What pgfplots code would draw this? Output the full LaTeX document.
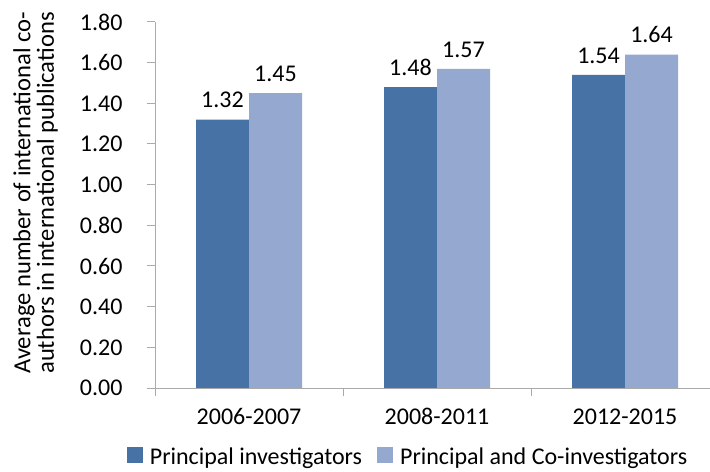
\documentclass[border=0pt]{standalone}
\usepackage{pgfplots}
\pgfplotsset{compat=1.18}
\usepackage{fontspec}
\setmainfont{Carlito}
\definecolor{piblue}{RGB}{70,114,166}
\definecolor{coblue}{RGB}{149,169,208}
\definecolor{axisgray}{RGB}{170,170,170}
\newcommand\chartfont{\fontsize{24bp}{23.5bp}\selectfont}
\begin{document}
\begin{tikzpicture}
\useasboundingbox (0,0) rectangle (710bp,472bp);
\begin{axis}[
  at={(155bp,84bp)}, anchor=south west,
  scale only axis, width=555bp, height=366bp,
  ybar=0pt, bar width=53bp,
  xmin=-0.5, xmax=2.452, ymin=0, ymax=1.8,
  axis x line*=bottom, axis y line*=left,
  axis line style={axisgray, line width=1bp},
  tick style={axisgray, line width=1bp},
  tick align=outside, major tick length=8bp,
  xtick={-0.5,0.5,1.5}, xticklabels={},
  extra x ticks={0,1,2},
  extra x tick labels={2006-2007,2008-2011,2012-2015},
  extra x tick style={major tick length=0pt},
  xticklabel style={yshift=-17bp},
  ytick={0,0.2,0.4,0.6,0.8,1.0,1.2,1.4,1.6,1.8},
  yticklabel style={xshift=-21bp, /pgf/number format/.cd, fixed, fixed zerofill, precision=2},
  /pgf/number format/assume math mode=true,
  ticklabel style={font=\chartfont, text=black},
  ylabel={Average number of international co-\\authors in international publications},
  ylabel style={at={(axis description cs:-0.2153,0.533)}, anchor=center, align=center,
    font=\fontsize{24.6bp}{23.5bp}\selectfont},
  nodes near coords={\pgfmathprintnumber[fixed,fixed zerofill,precision=2]{\pgfplotspointmeta}},
  every node near coord/.append style={font=\chartfont, text=black, yshift=8bp},
  legend image code/.code={\fill[#1] (0bp,-6bp) rectangle (16bp,10bp);},
  legend style={at={(axis description cs:0.456,-0.189)}, anchor=center,
    draw=none, fill=none, legend columns=2, font=\chartfont,
    /tikz/every odd column/.append style={column sep=5bp},
    /tikz/every even column/.append style={column sep=13bp}},
]
\addplot[fill=piblue, draw=none] coordinates {(0,1.32) (1,1.48) (2,1.54)};
\addplot[fill=coblue, draw=none] coordinates {(0,1.45) (1,1.57) (2,1.64)};
\legend{Principal investigators, Principal and Co-investigators}
\end{axis}
\end{tikzpicture}
\end{document}
